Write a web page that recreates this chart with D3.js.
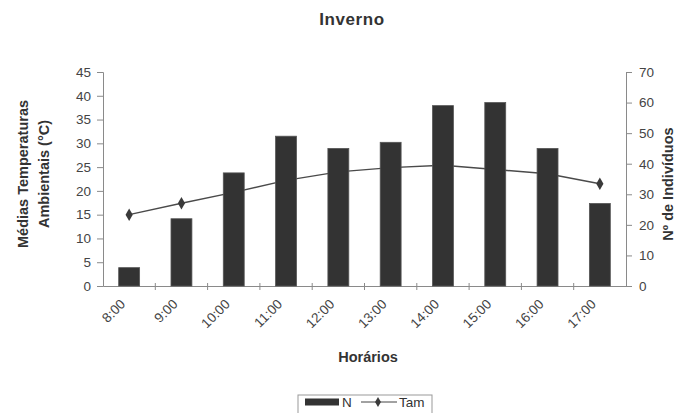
<!DOCTYPE html>
<html>
<head>
<meta charset="utf-8">
<script src="https://cdn.jsdelivr.net/npm/d3@7"></script>
<style>
  body { margin: 0; background: #fff; }
  svg text { font-family: "Liberation Sans", Arial, sans-serif; fill: #333; }
</style>
</head>
<body>
<svg id="chart"></svg>
<script>
// Inverno: N (bars, right axis) and Tam (line, left axis)
var horarios = ["8:00", "9:00", "10:00", "11:00", "12:00", "13:00", "14:00", "15:00", "16:00", "17:00"];
var nIndividuos = [6, 22, 37, 49, 45, 47, 59, 60, 45, 27];
var tam = [15.0, 17.4, 19.7, 22.2, 24.0, 24.9, 25.4, 24.5, 23.6, 21.5];
var leftTicks = [0, 5, 10, 15, 20, 25, 30, 35, 40, 45];
var rightTicks = [0, 10, 20, 30, 40, 50, 60, 70];

var width = 677;
var height = 413;
var plotLeft = 103, plotRight = 626, plotTop = 72, plotBottom = 286;

var svg = d3.select("#chart")
	.attr("width", width)
	.attr("height", height);

var x = d3.scaleBand()
	.domain(horarios)
	.range([plotLeft, plotRight])
	.paddingInner(0.6)
	.paddingOuter(0.3);

var yLeft = d3.scaleLinear().domain([0, 45]).range([plotBottom, plotTop]);
var yRight = d3.scaleLinear().domain([0, 70]).range([plotBottom, plotTop]);

var axisColor = "#8a8a8a";

// title
svg.append("text")
	.attr("x", 352)
	.attr("y", 25)
	.attr("text-anchor", "middle")
	.style("font-size", "17px")
	.style("font-weight", "bold")
	.style("letter-spacing", "0.6px")
	.text("Inverno");

// left axis
var gl = svg.append("g")
	.attr("transform", "translate(" + plotLeft + ",0)")
	.call(d3.axisLeft(yLeft).tickValues(leftTicks).tickSize(6).tickPadding(6));
gl.selectAll("text").style("font-size", "13.5px").style("fill", "#444");

// right axis
var gr = svg.append("g")
	.attr("transform", "translate(" + plotRight + ",0)")
	.call(d3.axisRight(yRight).tickValues(rightTicks).tickSize(6).tickPadding(7));
gr.selectAll("text").style("font-size", "13.5px").style("fill", "#444");

// bottom axis (labels only, ticks drawn between categories)
var gb = svg.append("g")
	.attr("transform", "translate(0," + plotBottom + ")")
	.call(d3.axisBottom(x).tickSize(0).tickSizeOuter(0).tickPadding(0));
gb.selectAll("text")
	.style("font-size", "13.5px")
	.style("fill", "#444")
	.attr("text-anchor", "end")
	.attr("dy", 0)
	.attr("transform", "translate(-3,19) rotate(-45)");

var step = x.step();
var bounds = d3.range(1, horarios.length).map(function(i) { return plotLeft + i * step; });
gb.selectAll(".sep")
	.data(bounds)
	.enter()
	.append("line")
		.attr("class", "sep")
		.attr("x1", function(d) { return d; })
		.attr("x2", function(d) { return d; })
		.attr("y1", -3)
		.attr("y2", 4)
		.attr("stroke", axisColor);

svg.selectAll(".domain, .tick line").attr("stroke", axisColor);

// line Tam (drawn under bars)
var line = d3.line()
	.x(function(d, i) { return x(horarios[i]) + x.bandwidth() / 2; })
	.y(function(d) { return yLeft(d); });

svg.append("path")
	.datum(tam)
	.attr("d", line)
	.attr("fill", "none")
	.attr("stroke", "#4a4a4a")
	.attr("stroke-width", 1.4);

svg.selectAll(".marker")
	.data(tam)
	.enter()
	.append("path")
		.attr("class", "marker")
		.attr("d", d3.symbol().type(d3.symbolDiamond).size(45))
		.attr("transform", function(d, i) {
			return "translate(" + (x(horarios[i]) + x.bandwidth() / 2) + "," + yLeft(d) + ")";
		})
		.attr("fill", "#3a3a3a");

// bars N
svg.selectAll(".bar")
	.data(nIndividuos)
	.enter()
	.append("rect")
		.attr("class", "bar")
		.attr("x", function(d, i) { return x(horarios[i]); })
		.attr("y", function(d) { return yRight(d); })
		.attr("width", x.bandwidth())
		.attr("height", function(d) { return plotBottom - yRight(d); })
		.attr("fill", "#333")
		.attr("stroke", "#555")
		.attr("stroke-width", 0.8);

// axis titles
svg.append("text")
	.attr("transform", "translate(28,174) rotate(-90)")
	.attr("text-anchor", "middle")
	.style("font-size", "14.5px")
	.style("font-weight", "bold")
	.text("Médias Temperaturas");

svg.append("text")
	.attr("transform", "translate(49,174) rotate(-90)")
	.attr("text-anchor", "middle")
	.style("font-size", "14.5px")
	.style("font-weight", "bold")
	.text("Ambientais (°C)");

svg.append("text")
	.attr("transform", "translate(673,184) rotate(-90)")
	.attr("text-anchor", "middle")
	.style("font-size", "14.5px")
	.style("font-weight", "bold")
	.text("Nº de Indivíduos");

svg.append("text")
	.attr("x", 368)
	.attr("y", 362)
	.attr("text-anchor", "middle")
	.style("font-size", "14.5px")
	.style("font-weight", "bold")
	.text("Horários");

// legend
var lg = svg.append("g").attr("transform", "translate(298,395)");
lg.append("rect")
	.attr("width", 134)
	.attr("height", 24)
	.attr("fill", "#fff")
	.attr("stroke", "#999");
lg.append("rect")
	.attr("x", 7).attr("y", 3.5)
	.attr("width", 34).attr("height", 7)
	.attr("fill", "#333");
lg.append("text")
	.attr("x", 44).attr("y", 12)
	.style("font-size", "13.5px")
	.text("N");
lg.append("line")
	.attr("x1", 63).attr("x2", 99)
	.attr("y1", 7).attr("y2", 7)
	.attr("stroke", "#444");
lg.append("path")
	.attr("d", d3.symbol().type(d3.symbolDiamond).size(30))
	.attr("transform", "translate(80,7)")
	.attr("fill", "#3a3a3a");
lg.append("text")
	.attr("x", 101).attr("y", 12)
	.style("font-size", "13.5px")
	.text("Tam");
</script>
</body>
</html>
